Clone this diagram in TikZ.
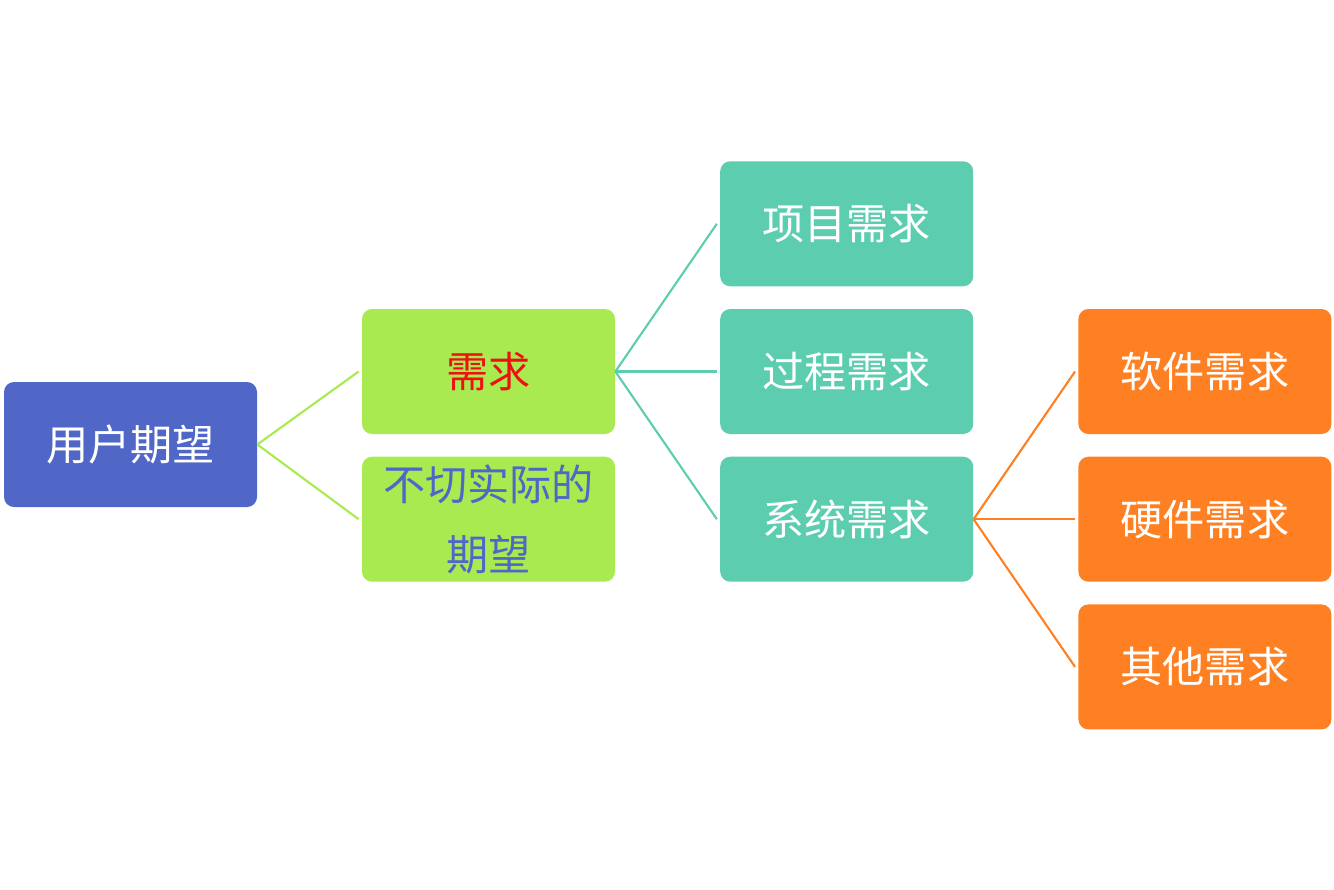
\documentclass[tikz,border=0pt]{standalone}
\usepackage{fontspec}
\setmainfont{Noto Sans CJK SC}
\usetikzlibrary{positioning}

\definecolor{rootblue}{HTML}{5067C8}
\definecolor{needgreen}{HTML}{A8EA50}
\definecolor{subteal}{HTML}{5CCDAF}
\definecolor{leaforange}{HTML}{FF8022}
\definecolor{needred}{HTML}{EE1111}

\begin{document}
\begin{tikzpicture}[
    node distance=0.44cm and 2.09cm,
    box/.style={rectangle, rounded corners=0.2cm, minimum width=5.06cm, minimum height=2.5cm, inner sep=0pt, align=center, text=white, font=\fontsize{24}{40}\selectfont},
    rootbox/.style={box, fill=rootblue},
    needbox/.style={box, fill=needgreen},
    subbox/.style={box, fill=subteal},
    leafbox/.style={box, fill=leaforange},
    link/.style={line width=1.2pt}
]
\useasboundingbox (0,0) rectangle (26.68,-17.78);

% Level 1
\node[rootbox] (root) at (2.61,-8.89) {用户期望};

% Level 2
\node[needbox, text=needred] (need) at (9.77,-7.43) {需求};
\node[needbox, text=rootblue, below=of need] (unreal) {不切实际的\\期望};

% Level 3
\node[subbox, right=of need] (process) {过程需求};
\node[subbox, above=of process] (project) {项目需求};
\node[subbox, below=of process] (system) {系统需求};

% Level 4
\node[leafbox, right=of system] (hardware) {硬件需求};
\node[leafbox, above=of hardware] (software) {软件需求};
\node[leafbox, below=of hardware] (other) {其他需求};

% Links
\draw[link, needgreen] (root.east) -- ([xshift=-0.06cm]need.west);
\draw[link, needgreen] (root.east) -- ([xshift=-0.06cm]unreal.west);

\draw[link, subteal] (need.east) -- ([xshift=-0.06cm]project.west);
\draw[link, subteal] (need.east) -- ([xshift=-0.06cm]process.west);
\draw[link, subteal] (need.east) -- ([xshift=-0.06cm]system.west);

\draw[link, leaforange] (system.east) -- ([xshift=-0.06cm]software.west);
\draw[link, leaforange] (system.east) -- ([xshift=-0.06cm]hardware.west);
\draw[link, leaforange] (system.east) -- ([xshift=-0.06cm]other.west);

\end{tikzpicture}
\end{document}
